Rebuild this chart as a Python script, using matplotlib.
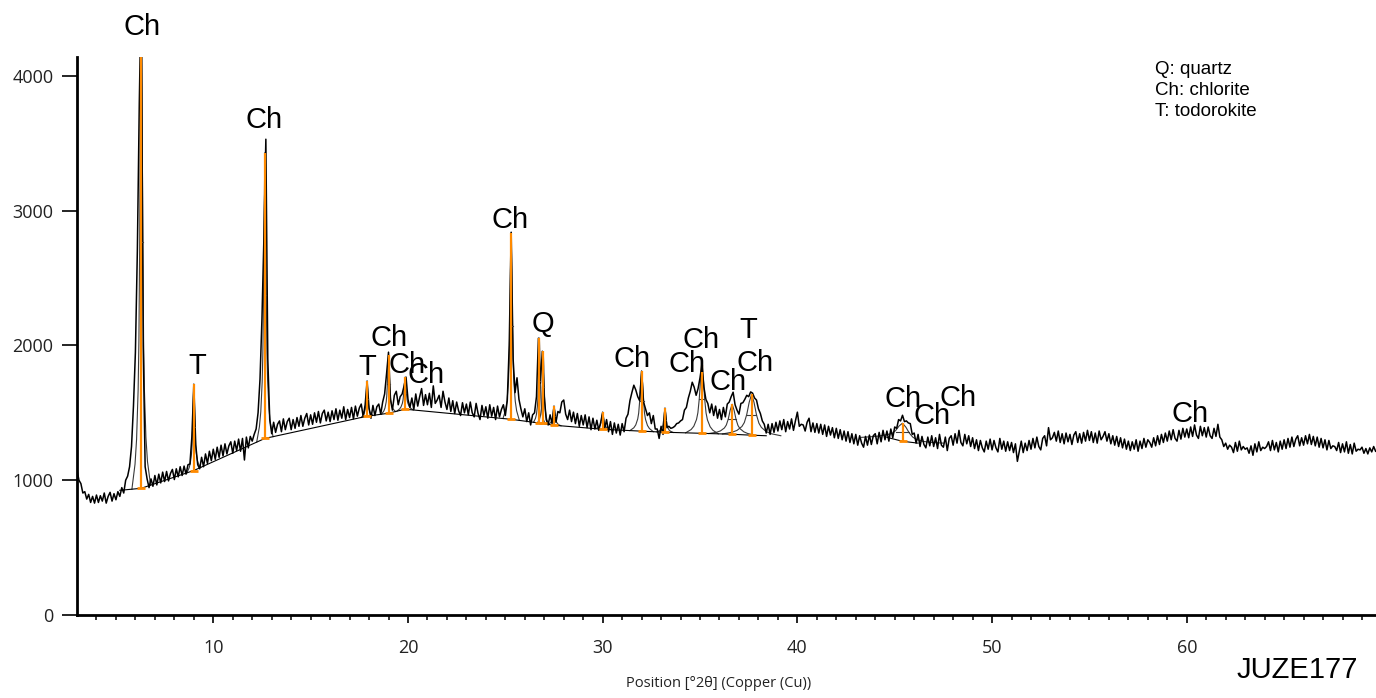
import numpy as np
import matplotlib
matplotlib.use("Agg")
from matplotlib import pyplot as plt

# ---- observed pattern: counts every 0.1 deg 2theta, starting at 3.0 ----
obs_start = 3.0
obs_step = 0.1
obs_03_20 = [
    1075, 1000, 975, 905, 915, 860, 895, 835, 880, 830,        # 3
    890, 835, 885, 845, 905, 830, 880, 910, 845, 900,          # 4
    855, 915, 880, 945, 905, 1000, 1030, 1100, 1250, 1550,     # 5
    1950, 2700, 3800, 4650, 2000, 1100, 1010, 945, 1010, 955,  # 6
    1035, 965, 1045, 980, 1060, 990, 1065, 995, 1050, 1080,    # 7
    1005, 1085, 1025, 1100, 1035, 1105, 1045, 1115, 1120, 1320,  # 8
    1712, 1260, 1115, 1085, 1170, 1100, 1195, 1125, 1215, 1145,  # 9
    1230, 1155, 1245, 1170, 1260, 1180, 1270, 1195, 1255, 1285,  # 10
    1200, 1290, 1220, 1305, 1215, 1310, 1150, 1320, 1240, 1325,  # 11
    1290, 1340, 1380, 1500, 1750, 2200, 2800, 3530, 1900, 1450,  # 12
    1345, 1430, 1355, 1415, 1440, 1360, 1455, 1375, 1435, 1460,  # 13
    1375, 1450, 1385, 1465, 1400, 1480, 1400, 1460, 1495, 1410,  # 14
    1485, 1415, 1500, 1430, 1510, 1425, 1495, 1520, 1440, 1505,  # 15
    1435, 1515, 1450, 1530, 1445, 1520, 1460, 1545, 1450, 1525,  # 16
    1465, 1540, 1455, 1550, 1475, 1535, 1565, 1470, 1560, 1735,  # 17
    1535, 1460, 1555, 1480, 1545, 1565, 1490, 1580, 1640, 1790,  # 18
    1950, 1600, 1520, 1630, 1660, 1560, 1620, 1640, 1700, 1765,  # 19
]
obs_20_40 = [
    1600, 1540, 1610, 1525, 1640, 1550, 1620, 1680, 1555, 1635,  # 20
    1560, 1645, 1540, 1700, 1570, 1595, 1630, 1540, 1660, 1580,  # 21
    1525, 1610, 1510, 1590, 1495, 1580, 1515, 1480, 1575, 1500,  # 22
    1565, 1485, 1580, 1500, 1470, 1570, 1495, 1450, 1555, 1480,  # 23
    1545, 1460, 1560, 1475, 1540, 1450, 1550, 1470, 1525, 1560,  # 24
    1480, 1590, 2000, 2840, 1900, 1650, 1760, 1600, 1530, 1470,  # 25
    1530, 1435, 1500, 1410, 1485, 1500, 1620, 2054, 1720, 1957,  # 26
    1620, 1450, 1410, 1485, 1420, 1549, 1430, 1510, 1500, 1580,  # 27
    1595, 1490, 1450, 1520, 1435, 1505, 1420, 1495, 1400, 1480,  # 28
    1410, 1485, 1390, 1470, 1375, 1460, 1380, 1445, 1370, 1430,  # 29
    1504, 1380, 1450, 1360, 1435, 1340, 1425, 1350, 1415, 1335,  # 30
    1420, 1360, 1460, 1490, 1590, 1650, 1705, 1670, 1620, 1590,  # 31
    1809, 1580, 1530, 1480, 1500, 1420, 1480, 1380, 1380, 1310,  # 32
    1400, 1340, 1534, 1390, 1400, 1385, 1390, 1400, 1420, 1425,  # 33
    1440, 1450, 1520, 1540, 1610, 1660, 1727, 1690, 1630, 1680,  # 34
    1760, 1860, 1690, 1600, 1570, 1500, 1565, 1480, 1550, 1460,  # 35
    1525, 1450, 1540, 1470, 1565, 1580, 1620, 1653, 1560, 1520,  # 36
    1490, 1570, 1575, 1600, 1630, 1620, 1655, 1646, 1610, 1595,  # 37
    1530, 1495, 1440, 1415, 1350, 1415, 1340, 1420, 1355, 1430,  # 38
    1365, 1440, 1375, 1450, 1360, 1435, 1380, 1455, 1370, 1440,  # 39
]
obs_40_70 = [
    1505, 1400, 1415, 1410, 1365, 1430, 1460, 1360, 1425, 1355,  # 40
    1420, 1350, 1415, 1340, 1410, 1325, 1400, 1335, 1390, 1315,  # 41
    1385, 1310, 1375, 1300, 1365, 1290, 1360, 1280, 1345, 1270,  # 42
    1340, 1260, 1330, 1275, 1245, 1325, 1260, 1335, 1265, 1330,  # 43
    1345, 1270, 1355, 1285, 1370, 1300, 1365, 1290, 1380, 1315,  # 44
    1395, 1385, 1450, 1440, 1482, 1435, 1440, 1425, 1420, 1340,  # 45
    1350, 1275, 1340, 1250, 1325, 1265, 1240, 1320, 1255, 1330,  # 46
    1250, 1315, 1235, 1340, 1260, 1245, 1320, 1220, 1310, 1330,  # 47
    1260, 1345, 1275, 1370, 1280, 1255, 1340, 1270, 1330, 1250,  # 48
    1315, 1235, 1300, 1220, 1295, 1240, 1210, 1290, 1230, 1305,  # 49
    1225, 1295, 1240, 1210, 1310, 1230, 1290, 1215, 1285, 1220,  # 50
    1280, 1205, 1270, 1140, 1215, 1290, 1205, 1275, 1220, 1295,  # 51
    1230, 1310, 1240, 1320, 1250, 1225, 1310, 1330, 1255, 1390,  # 52
    1300, 1315, 1355, 1290, 1365, 1280, 1345, 1270, 1350, 1285,  # 53
    1340, 1265, 1335, 1360, 1280, 1345, 1275, 1355, 1290, 1370,  # 54
    1295, 1360, 1280, 1350, 1275, 1365, 1300, 1325, 1360, 1290,  # 55
    1345, 1270, 1330, 1260, 1325, 1250, 1315, 1240, 1305, 1230,  # 56
    1290, 1220, 1285, 1230, 1300, 1215, 1290, 1235, 1310, 1245,  # 57
    1300, 1280, 1245, 1315, 1255, 1330, 1265, 1340, 1280, 1350,  # 58
    1290, 1365, 1300, 1375, 1310, 1290, 1370, 1305, 1385, 1320,  # 59
    1380, 1315, 1395, 1325, 1410, 1335, 1310, 1400, 1330, 1390,  # 60
    1320, 1395, 1330, 1310, 1385, 1325, 1415, 1320, 1300, 1250,  # 61
    1275, 1230, 1260, 1245, 1205, 1280, 1215, 1290, 1225, 1250,  # 62
    1230, 1240, 1200, 1255, 1185, 1270, 1210, 1285, 1220, 1245,  # 63
    1235, 1250, 1285, 1220, 1295, 1225, 1280, 1210, 1290, 1230,  # 64
    1300, 1235, 1310, 1245, 1320, 1250, 1305, 1330, 1255, 1315,  # 65
    1260, 1330, 1270, 1340, 1265, 1325, 1255, 1320, 1245, 1310,  # 66
    1240, 1300, 1225, 1295, 1235, 1255, 1250, 1220, 1280, 1205,  # 67
    1270, 1210, 1285, 1200, 1265, 1195, 1275, 1215, 1230, 1225,  # 68
    1245, 1200, 1235, 1195, 1240, 1210, 1250, 1215,              # 69
]

# ---- fitted background (two pieces) ----
bg1_x = [5.2, 6.3, 9.0, 12.65, 17.9, 19.0, 19.85, 25.3, 26.8, 27.5, 30.0, 32.0, 33.2, 35.1, 36.65, 37.65, 38.4]
bg1_y = [925, 940, 1072, 1310, 1475, 1497, 1527, 1452, 1423, 1408, 1378, 1364, 1356, 1348, 1341, 1334, 1330]
bg2_x = [44.6, 45.4, 46.2]
bg2_y = [1318, 1289, 1275]

# ---- fitted peaks ----
pk_pos = [6.3, 9.0, 12.65, 17.9, 19.0, 19.85, 25.3, 26.75, 26.95, 27.5, 30.0, 32.0, 33.2, 35.1, 36.65, 37.65, 45.4]
pk_base = [940, 1072, 1310, 1475, 1497, 1527, 1452, 1423, 1423, 1408, 1378, 1364, 1356, 1348, 1341, 1334, 1289]
pk_top = [4600, 1712, 3431, 1735, 1928, 1765, 2834, 2054, 1957, 1549, 1504, 1809, 1534, 1854, 1564, 1638, 1423]
pk_fwhm = [0.16, 0.12, 0.14, 0.1, 0.12, 0.14, 0.14, 0.1, 0.1, 0.12, 0.14, 0.2, 0.14, 0.28, 0.4, 0.5, 0.7]

# peak profile shape (offset in FWHM units, relative height)
shape_off = [-3, -2, -1.5, -1, -0.75, -0.5, -0.25, 0, 0.25, 0.5, 0.75, 1, 1.5, 2, 3]
shape_rel = [0.0, 0.05, 0.1, 0.2, 0.3, 0.5, 0.8, 1.0, 0.8, 0.5, 0.3, 0.2, 0.1, 0.05, 0.0]

# ---- phase labels ----
lab_text = ['Ch', 'T', 'Ch', 'T', 'Ch', 'Ch', 'Ch', 'Ch', 'Q', 'Ch',
            'Ch', 'Ch', 'Ch', 'T', 'Ch', 'Ch', 'Ch', 'Ch', 'Ch']
lab_x = [6.34, 9.16, 12.60, 17.89, 19.02, 19.94, 20.92, 25.23, 26.93, 31.50,
         34.32, 35.04, 36.43, 37.46, 37.82, 45.42, 46.91, 48.25, 60.16]
lab_y = [4365, 1850, 3674, 1843, 2058, 1858, 1777, 2929, 2158, 1900,
         1863, 2040, 1729, 2117, 1870, 1603, 1478, 1612, 1493]

legend_lines = ['Q: quartz', 'Ch: chlorite', 'T: todorokite']
y_ticks = [0, 1000, 2000, 3000, 4000]
x_ticks = [10, 20, 30, 40, 50, 60]

orange = '#ff8a00'

counts = np.array(obs_03_20 + obs_20_40 + obs_40_70, dtype=float)
two_theta = obs_start + obs_step * np.arange(len(counts))

fig = plt.figure(figsize=(13.76, 6.98), dpi=100)
ax = fig.add_axes([77 / 1376, 1 - 615 / 698, 1 - 77 / 1376, (615 - 57) / 698])

ax.plot(two_theta, counts, color='black', lw=1.1, zorder=3)

# fitted profiles sitting on the background, with a FWHM bar
for pos, base, top, w in zip(pk_pos, pk_base, pk_top, pk_fwhm):
    bx, by = (bg2_x, bg2_y) if pos > 40 else (bg1_x, bg1_y)
    px = pos + w * np.array(shape_off)
    py = np.interp(px, bx, by) + (top - base) * np.array(shape_rel)
    ax.plot(px, py, color='#3a3a3a', lw=0.8, zorder=2)
    ax.plot([pos - w / 2, pos + w / 2], [base + (top - base) / 2] * 2, color='#3a3a3a', lw=0.8, zorder=4)

ax.plot(bg1_x, bg1_y, color='black', lw=0.8, zorder=2)
ax.plot(bg2_x, bg2_y, color='black', lw=0.8, zorder=2)

ax.vlines(pk_pos, pk_base, pk_top, color=orange, lw=1.6, zorder=5)
ax.plot(pk_pos, pk_base, linestyle='none', marker='_', ms=6, mew=2, color=orange, zorder=5)

for t, x, y in zip(lab_text, lab_x, lab_y):
    ax.text(x, y, t, ha='center', va='center', fontsize=21, family='Liberation Sans', zorder=6)

fig.text(1155 / 1376, 1 - 61 / 698, '\n'.join(legend_lines), ha='left', va='top',
         fontsize=13.5, family='Liberation Sans', linespacing=1.3)
fig.text(1358 / 1376, 1 - 670 / 698, 'JUZE177', ha='right', va='center',
         fontsize=21, family='Liberation Sans')

ax.set_xlim(3, 69.72)
ax.set_ylim(0, 4140)
ax.set_xticks(x_ticks)
ax.set_xticks(np.arange(4, 70), minor=True)
ax.set_yticks(y_ticks)
ax.tick_params(axis='x', which='major', length=6, width=1.2, pad=11, labelsize=13, labelcolor='#222222')
ax.tick_params(axis='x', which='minor', length=3.6, width=1.1)
ax.tick_params(axis='y', which='major', length=11, width=1.2, pad=6, labelsize=13, labelcolor='#222222')
for lab in ax.get_xticklabels() + ax.get_yticklabels():
    lab.set_family('Open Sans')

for side in ['top', 'right']:
    ax.spines[side].set_visible(False)
for side in ['left', 'bottom']:
    ax.spines[side].set_linewidth(2)

ax.set_xlabel('Position [°2θ] (Copper (Cu))', family='Open Sans', fontsize=10.5, color='#222222')
ax.xaxis.set_label_coords((719 - 77) / 1299, (615 - 676) / 558)

fig.savefig('out.png', dpi=100, facecolor='white')
